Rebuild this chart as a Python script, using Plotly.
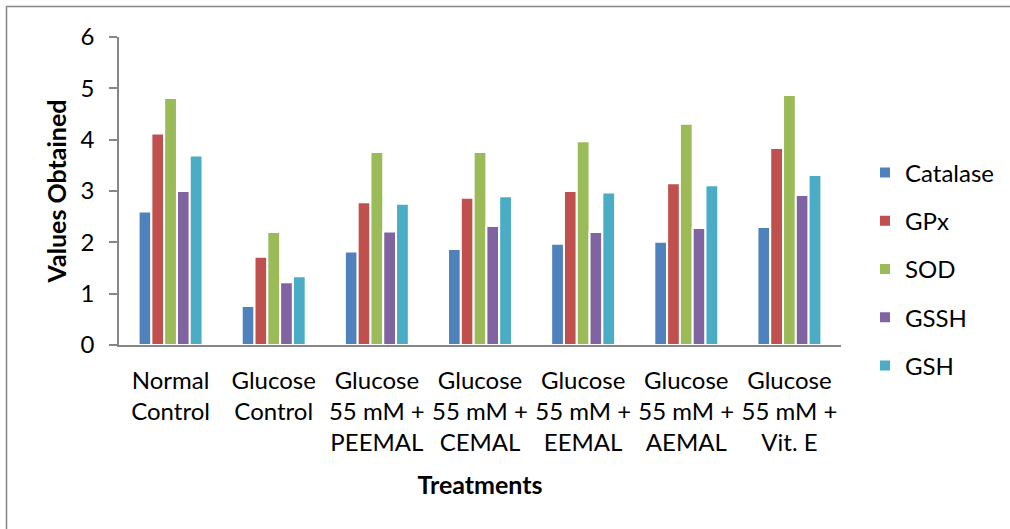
import plotly.graph_objects as go

categories = ["Normal<br>Control", "Glucose<br>Control", "Glucose<br>55 mM +<br>PEEMAL",
              "Glucose<br>55 mM +<br>CEMAL", "Glucose<br>55 mM +<br>EEMAL",
              "Glucose<br>55 mM +<br>AEMAL", "Glucose<br>55 mM +<br>Vit. E"]

catalase = [2.60, 0.76, 1.82, 1.87, 1.97, 2.01, 2.30]
gpx = [4.12, 1.72, 2.78, 2.87, 3.00, 3.15, 3.84]
sod = [4.81, 2.20, 3.76, 3.76, 3.97, 4.31, 4.87]
gssh = [3.00, 1.22, 2.21, 2.32, 2.20, 2.28, 2.92]
gsh = [3.69, 1.34, 2.75, 2.90, 2.97, 3.11, 3.31]

series = [("Catalase", catalase, "#4F81BD"), ("GPx", gpx, "#C0504D"),
          ("SOD", sod, "#9BBB59"), ("GSSH", gssh, "#8064A2"), ("GSH", gsh, "#4BACC6")]

FONT = "Lato, Open Sans, sans-serif"

fig = go.Figure()
for name, vals, col in series:
    fig.add_trace(go.Bar(x=categories, y=vals, name=name, legendgroup=name,
                         marker=dict(color=col, line=dict(color="white", width=2))))

W, H = 1010, 529
L, R, T, B = 119, 169, 37, 184

def px2x(p):
    return (p - L) / (W - L - R)

def py2y(p):
    return (H - B - p) / (H - T - B)

fig.update_layout(
    width=W, height=H,
    margin=dict(l=L, r=R, t=T, b=B, autoexpand=False),
    paper_bgcolor="white", plot_bgcolor="white",
    barmode="group", bargap=0.38, bargroupgap=0,
    font=dict(family=FONT, size=24, color="black"),
    showlegend=True,
    legend=dict(x=px2x(865), xanchor="left", y=py2y(269), yanchor="middle",
                font=dict(size=24), tracegroupgap=14, bgcolor="rgba(0,0,0,0)"),
    xaxis=dict(showline=True, linecolor="#868686", linewidth=1.5, ticks="",
               tickfont=dict(size=24), showgrid=False, ticklabelstandoff=13,
               title=dict(text="<b>Treatments</b>", font=dict(size=25), standoff=22)),
    yaxis=dict(range=[0, 6], dtick=1, showline=True, linecolor="#868686", linewidth=1.5,
               ticks="outside", ticklen=8, tickcolor="#868686", tickwidth=1.5,
               showgrid=False, zeroline=False, tickfont=dict(size=24),
               ticklabelstandoff=10,
               title=dict(text="<b>Values Obtained</b>", font=dict(size=25), standoff=7)),
    shapes=[dict(type="rect", xref="paper", yref="paper",
                 x0=px2x(6.5), x1=px2x(1030), y0=py2y(545), y1=py2y(6.5),
                 line=dict(color="#868686", width=1.5), fillcolor="rgba(0,0,0,0)", layer="below")],
)

fig.write_html("out.html")
